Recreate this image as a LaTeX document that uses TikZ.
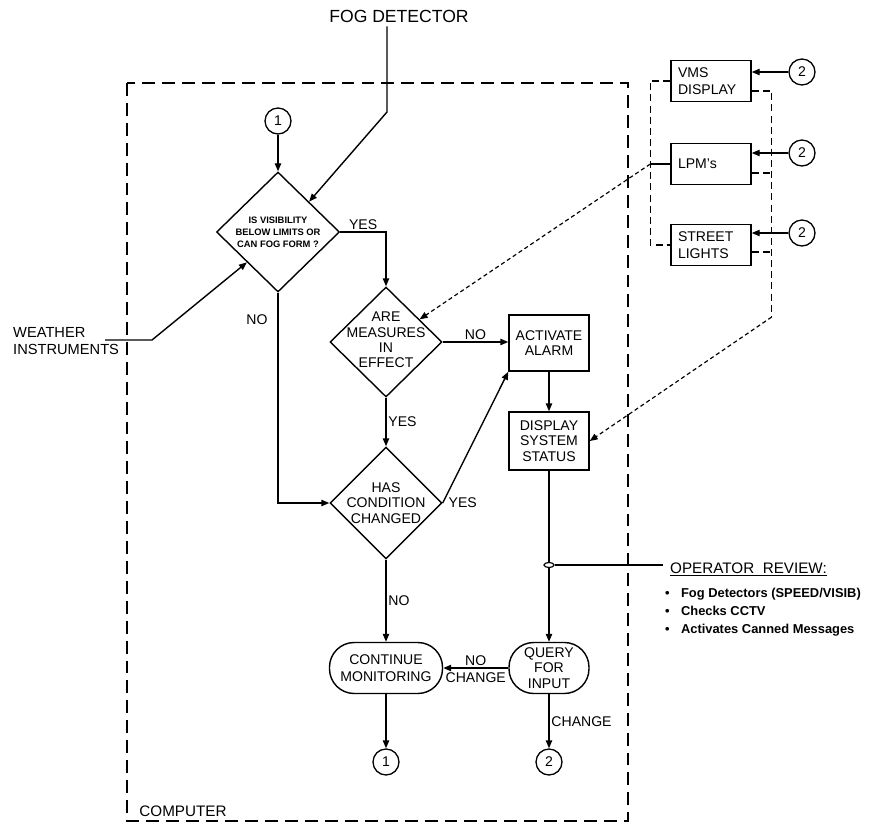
\documentclass[tikz,border=0pt]{standalone}
\usepackage{fontspec}
\setmainfont{Liberation Sans}
\usetikzlibrary{arrows.meta,positioning,calc,shapes.geometric}

\newcommand{\lbl}{\fontsize{12}{14}\selectfont}
\newcommand{\dlbl}{\fontsize{12}{13.2}\selectfont}

\tikzset{
  flow/.style={-{Triangle[length=2.4mm,width=1.9mm]},line width=1.2pt},
  wire/.style={line width=1.2pt},
  bus/.style={line width=1pt,dash pattern=on 6pt off 3.5pt},
  feed/.style={-{Triangle[length=2.4mm,width=1.9mm]},line width=1pt,
               dash pattern=on 3.5pt off 2.5pt},
  cpuframe/.style={line width=1.1pt,dash pattern=on 11pt off 6pt},
  decision/.style={diamond,draw,line width=1.2pt,inner sep=0pt},
  dtext/.style={align=center,font=\dlbl,inner sep=0pt},
  box/.style={draw,line width=1.2pt,align=center,font=\dlbl,
              minimum width=24mm,inner sep=0.5mm},
  unit/.style={draw,line width=1.2pt,align=left,font=\lbl,text width=19.8mm,
               inner xsep=2.1mm,inner ysep=0.8mm,minimum height=12.3mm},
  term/.style={rectangle,rounded corners=7.4mm,draw,line width=1.2pt,
               align=center,font=\dlbl,minimum height=15.3mm,inner sep=0pt},
  conn/.style={circle,draw,line width=1.1pt,minimum size=7.8mm,inner sep=0pt,
               font=\lbl},
  tag/.style={font=\lbl,inner sep=1.5pt},
}

\begin{document}
\begin{tikzpicture}[x=0.3mm,y=-0.3mm]
  \useasboundingbox (0,0) rectangle (891,824);
  % computer boundary
  \draw[cpuframe] (127,83) rectangle (628,821);
  \node[font=\fontsize{13}{15}\selectfont] (cpu) at (183,811) {COMPUTER};

  % decisions and boxes
  \node[decision,minimum width=36.9mm,minimum height=36mm] (vis) at (278,232) {};
  \node[dtext,font=\fontsize{8}{10.2}\selectfont\bfseries] (vis-t) at (vis)
    {IS VISIBILITY\\BELOW LIMITS OR\\CAN FOG FORM ?};
  \node[decision,minimum width=33.6mm,minimum height=33mm] (meas) at (386,342) {};
  \node[dtext] (meas-t) at (386,340) {ARE\\MEASURES\\IN\\EFFECT};
  \node[decision,minimum width=33.6mm,minimum height=33.6mm] (cond) at (386,503) {};
  \node[dtext] (cond-t) at (cond) {HAS\\CONDITION\\CHANGED};
  \node[box,minimum height=16.8mm] (act) at (549,343) {ACTIVATE\\ALARM};
  \node[box,minimum height=17.4mm] (disp) at (549,441) {DISPLAY\\SYSTEM\\STATUS};
  \node[term,minimum width=33.9mm,font=\fontsize{12}{15}\selectfont] (cont) at (386,668) {CONTINUE\\MONITORING};
  \node[term,minimum width=24mm] (query) at (549,668) {QUERY\\FOR\\INPUT};

  % off-page connectors
  \node[conn] (c1top) at (278,121) {1};
  \node[conn] (c1bot) at (386,762) {1};
  \node[conn] (c2bot) at (549,762) {2};

  % inputs
  \node[font=\fontsize{15}{17}\selectfont] (fog) at (399,16) {FOG DETECTOR};
  \node[anchor=west,align=left,font=\fontsize{12.5}{14.5}\selectfont,inner sep=0pt]
    (wx) at (13,341) {WEATHER\\INSTRUMENTS};
  \coordinate (fogbend) at (387,112);
  \coordinate (wxout) at (105,340);
  \coordinate (wxbend) at (152,340);

  \draw[flow] (c1top) -- (vis);
  \draw[flow] (fogbend |- fog.south) -- (fogbend) -- ($(vis.north)!.5!(vis.east)$);
  \draw[flow] (wxout) -- (wxbend) -- ($(vis.west)!.5!(vis.south)$);

  % main flow
  \draw[flow] (vis.east) -- node[tag,above] (yes1) {YES} (vis.east -| meas) -- (meas.north);
  \draw[flow] (vis.south) |- (cond.west);
  \node[tag] (no1) at (257,320) {NO};
  \draw[flow] (meas.east) -- node[tag,above] (no2) {NO} (meas.east -| act.west);
  \draw[flow] (meas) -- node[tag,right] (yes2) {YES} (cond);
  \draw[flow] (cond.east) -- (act.south west);
  \node[tag,right=1.2mm of cond.east] (yes3) {YES};
  \draw[flow] (act) -- (disp);
  \draw[flow] (disp) -- (query);
  \draw[flow] (cond) -- node[tag,right] (no3) {NO} (cont);
  \draw[flow] (cont) -- (c1bot);
  \draw[flow] (query) -- node[tag,above] (no4) {NO} node[tag,below=2pt] (chg1) {CHANGE} (cont);
  \draw[flow] (query) -- node[tag,right] (chg2) {CHANGE} (c2bot);

  % operator review
  \node[ellipse,draw,fill=white,line width=1pt,minimum width=3mm,minimum height=1.5mm,
        inner sep=0pt] (tap) at (549,565) {};
  \coordinate (revend) at (663,565);
  \draw[wire] (tap.east) -- (revend);
  \node[anchor=base west,font=\fontsize{13}{15}\selectfont,inner sep=0pt]
    (rev) at (670,573) {\underline{OPERATOR\ \ REVIEW:}};
  \foreach \t [count=\i] in {{Fog Detectors (SPEED/VISIB)},{Checks CCTV},
                             {Activates Canned Messages}}
    \node[anchor=base west,font=\fontsize{11}{13}\selectfont\bfseries,inner sep=0pt]
      (op\i) at (665,579+18*\i) {\textbullet\hspace{3.4mm}\t};

  % field devices
  \node[unit] (vms) at (711,81) {VMS\\DISPLAY};
  \node[unit] (lpm) at (711,164) {LPM's};
  \node[unit] (street) at (711,245) {STREET\\LIGHTS};
  \foreach \u/\y in {vms/72,lpm/153,street/233}{
    \node[conn] (c2\u) at (802,\y) {2};
    \draw[flow] (c2\u) -- (c2\u -| \u.east);
  }
  \draw[bus] (vms.west) -- ++(-20,0) coordinate (lb1) |- (street.west);
  \draw[wire,line width=1pt] (lpm.west) -- (lpm.west -| lb1) coordinate (lb2);
  \draw[feed] (lb2) -- (meas);
  \draw[bus] ($(vms.east)+(0,10)$) -- ++(20,0) coordinate (rb1) -- (rb1 |- 0,317) coordinate (rb2);
  \foreach \u/\d in {lpm/9,street/7}
    \draw[bus] ($(\u.east)+(0,\d)$) -- ($(\u.east -| rb1)+(0,\d)$);
  \draw[feed] (rb2) -- (disp.east);
\end{tikzpicture}
\end{document}
